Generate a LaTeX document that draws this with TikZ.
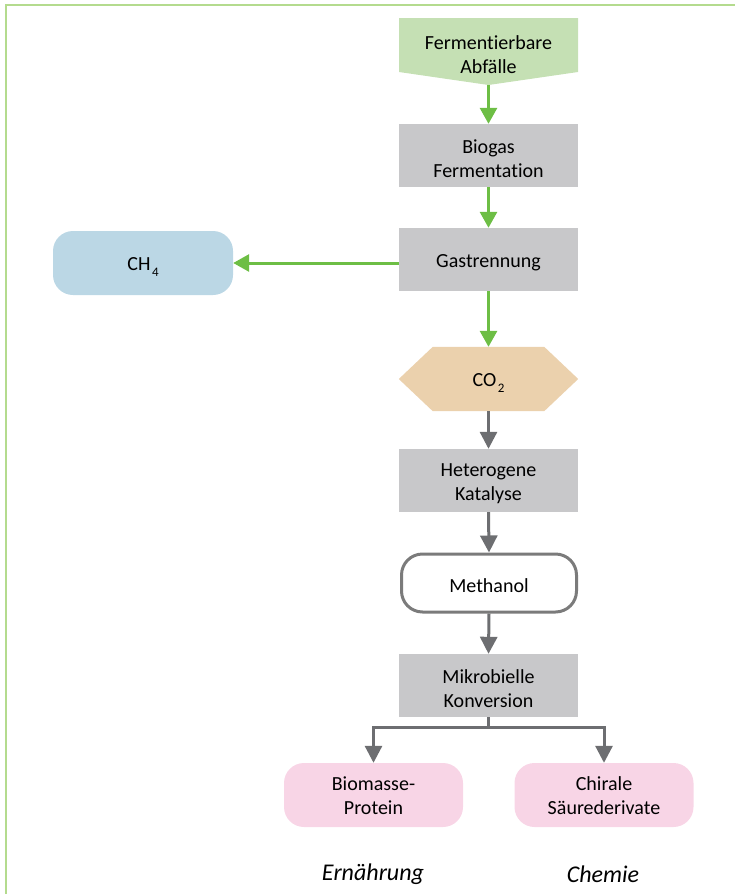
\documentclass[tikz,border=0pt]{standalone}
\usepackage{fontspec}
\setmainfont{Carlito}[Ligatures={NoCommon}]
\usetikzlibrary{arrows.meta,positioning,calc}
\pgfdeclarelayer{background}
\pgfsetlayers{background,main}

\definecolor{framegreen}{HTML}{B4DB8E}
\definecolor{inputfill}{HTML}{C5E0B4}
\definecolor{stepfill}{HTML}{C8C8CA}
\definecolor{flowgreen}{HTML}{6DBE45}
\definecolor{flowgray}{HTML}{6D6E71}
\definecolor{methanefill}{HTML}{BBD7E5}
\definecolor{cofill}{HTML}{EBD1AD}
\definecolor{productfill}{HTML}{F8D5E6}
\definecolor{methborder}{HTML}{7B7B7B}

% fixed-height strut for the first text line, so every label is centred by font metrics
\newcommand{\lineup}[1][20pt]{\rule{0pt}{#1}}
% chemical index: smaller digit set well below the baseline
\newcommand{\chemidx}[1]{\kern1.5pt\raisebox{-6pt}{\fontsize{13pt}{13pt}\selectfont #1}}

\tikzset{
  txt/.style={font=\fontsize{20pt}{24pt}\selectfont, align=center, text=black, inner sep=0pt},
  process/.style={txt, rectangle, fill=stepfill, minimum width=179pt, minimum height=63pt},
  hexbox/.style={txt, rectangle, minimum width=179pt, minimum height=64pt},
  gasout/.style={txt, rectangle, rounded corners=20pt, fill=methanefill, minimum width=180pt, minimum height=64pt},
  product/.style={txt, rectangle, rounded corners=20pt, fill=productfill, minimum width=179pt, minimum height=64pt},
  interm/.style={txt, rectangle, rounded corners=21pt, draw=methborder, line width=3pt, fill=white, minimum width=175pt, minimum height=58pt},
  usage/.style={font=\fontsize{24pt}{28pt}\selectfont\itshape, text=black, inner sep=0pt},
  greenflow/.style={draw=flowgreen, line width=3pt, -{Triangle[length=16pt,width=17pt]}},
  grayflow/.style={draw=flowgray, line width=3pt, -{Triangle[length=17pt,width=17pt]}},
  grayline/.style={draw=flowgray, line width=3pt}
}

\begin{document}
\begin{tikzpicture}[x=1pt,y=-1pt]
  \useasboundingbox (0,0) rectangle (735,894);

  % frame lines along the top and left edge
  \draw[framegreen, line width=2pt] (5.5,894) -- (5.5,4.5) -- (735,4.5);

  % input: pentagon pointing down, text sits in its upper part
  \coordinate (abfnw) at (399,18);
  \coordinate (abfne) at (578,18);
  \coordinate (abfse) at (578,72);
  \coordinate (abfsw) at (399,72);
  \coordinate (abftip) at (488.5,85);
  \fill[inputfill] (abfnw) -- (abfne) -- (abfse) -- (abftip) -- (abfsw) -- cycle;
  \node[txt] (abf) at (488.5,51.5) {\lineup Fermentierbare\\Abfälle};

  \node[process] (bio) at (488.5,155.5) {\lineup Biogas\\Fermentation};
  \node[process] (gas) at (488.5,259.5) {\lineup Gastrennung};
  \node[gasout] (ch4) at (143,263) {\lineup CH\chemidx{4}};

  \node[hexbox] (co2) at (488.5,379) {\lineup CO\chemidx{2}};
  \begin{pgfonlayer}{background}
    \fill[cofill] (co2.west) -- ([xshift=34pt]co2.north west) -- ([xshift=-34pt]co2.north east)
      -- (co2.east) -- ([xshift=-34pt]co2.south east) -- ([xshift=34pt]co2.south west) -- cycle;
  \end{pgfonlayer}

  \node[process] (kat) at (488.5,480.5) {\lineup Heterogene\\Katalyse};
  \node[interm] (meth) at (489,583) {\lineup Methanol};
  \node[process] (mik) at (488.5,685.5) {\lineup Mikrobielle\\Konversion};

  \node[product] (bmp) at (373.5,795) {\lineup[16pt]Biomasse-\\Protein};
  \node[product] (chi) at (604,795) {\lineup[16pt]Chirale\\Säurederivate};

  \node[usage] (ern) at (373,874) {Ernährung};
  \node[usage] (che) at (603,874) {Chemie};

  % connectors
  \draw[greenflow] (abftip) -- (bio.north);
  \draw[greenflow] (bio.south) -- (gas.north);
  \draw[greenflow] (ch4.east -| gas.west) -- (ch4.east);
  \draw[greenflow] (gas.south) -- (co2.north);
  \draw[grayflow] (co2.south) -- (kat.north);
  \draw[grayflow] (kat.south) -- (meth.north);
  \draw[grayflow] (meth.south) -- (mik.north);

  \coordinate (fork) at (488.5,727);
  \draw[grayline] (mik.south) -- (fork);
  \draw[grayflow] (fork) -| (bmp.north);
  \draw[grayflow] (fork) -| (chi.north);
\end{tikzpicture}
\end{document}
